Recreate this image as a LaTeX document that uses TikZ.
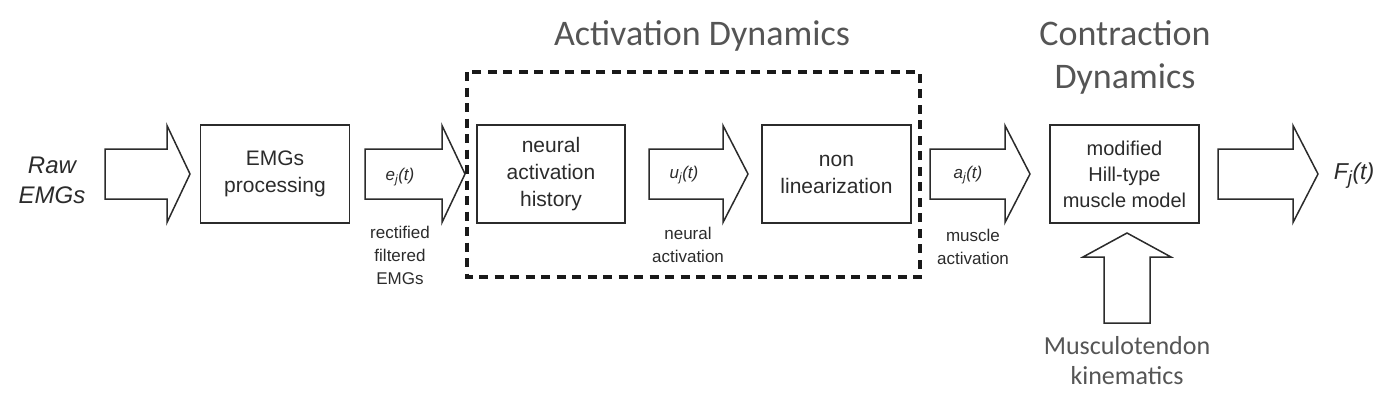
\documentclass[tikz,border=0pt]{standalone}
\usepackage{fontspec}
\setmainfont{Liberation Sans}
\newfontfamily\calfont{Carlito}
\definecolor{ink}{HTML}{2B2B2B}
\definecolor{ttl}{HTML}{555555}
\newcommand\hbarrow[3]{% x0, xhead, xtip ; centre y = 174
  \draw[barrow] (#1,149) -- (#2,149) -- (#2,125.5) -- (#3,174) -- (#2,222.5) -- (#2,199) -- (#1,199) -- cycle;}
\begin{document}
\begin{tikzpicture}[x=1pt,y=-1pt,
  blockbox/.style={draw=ink,line width=1.5pt,minimum width=149pt,minimum height=98pt,inner sep=0pt,align=center,text=ink,font=\fontsize{21}{27}\selectfont},
  barrow/.style={draw=ink,line width=1.5pt,line join=miter},
  sig/.style={text=ink,font=\fontsize{17}{21}\selectfont\itshape,inner sep=0pt},
  captext/.style={text=ink,align=center,font=\fontsize{17}{23}\selectfont,inner sep=0pt},
  title/.style={text=ttl,align=center,font=\calfont\fontsize{36}{43}\selectfont,inner sep=0pt},
  dashbox/.style={draw=black!90,line width=3.3pt,dash pattern=on 9pt off 6.5pt}]
\useasboundingbox (0,0) rectangle (1392,410);
% titles
\node[title,anchor=base] (tact) at (702,45) {Activation Dynamics};
\node[title] (tcon) at (1125,57) {Contraction\\Dynamics};
% dashed region
\draw[dashbox] (467,72) rectangle (920,277);
% input label
\node[text=ink,align=center,font=\fontsize{24}{30}\selectfont\itshape,inner sep=0pt] (raw) at (52,180) {Raw\\EMGs};
% boxes
\node[blockbox] (emg) at (275,174) {EMGs\\processing};
\node[blockbox,minimum width=148pt] (nah) at (551,174) {neural\\activation\\history};
\node[blockbox] (nonlin) at (836.5,174) {non\\linearization};
\node[blockbox,font=\fontsize{20}{26}\selectfont] (hill) at (1124.5,174) {modified\\Hill-type\\muscle model};
% block arrows
\hbarrow{105}{167}{190}
\hbarrow{365}{442}{465}
\hbarrow{649}{723}{748}
\hbarrow{930}{1005}{1030}
\hbarrow{1218}{1293}{1318}
\draw[barrow] (1104,323) -- (1104,257) -- (1083,257) -- (1127,233) -- (1171,257) -- (1150,257) -- (1150,323) -- cycle;
% signal labels
\node[sig] (e) at (400,177) {e\textsubscript{j}(t)};
\node[sig] (u) at (684,175) {u\textsubscript{j}(t)};
\node[sig] (a) at (968,175) {a\textsubscript{j}(t)};
\node[text=ink,font=\fontsize{23}{28}\selectfont\itshape,inner sep=0pt] (F) at (1354,176) {F\textsubscript{\fontsize{19}{20}\selectfont j}(t)};
% captions
\node[captext] (ce) at (400,255) {rectified\\filtered\\EMGs};
\node[captext] (cu) at (688,245) {neural\\activation};
\node[captext] (ca) at (973,247) {muscle\\activation};
\node[title,font=\calfont\fontsize{26}{30}\selectfont] (mk) at (1127,361) {Musculotendon\\kinematics};
\end{tikzpicture}
\end{document}
